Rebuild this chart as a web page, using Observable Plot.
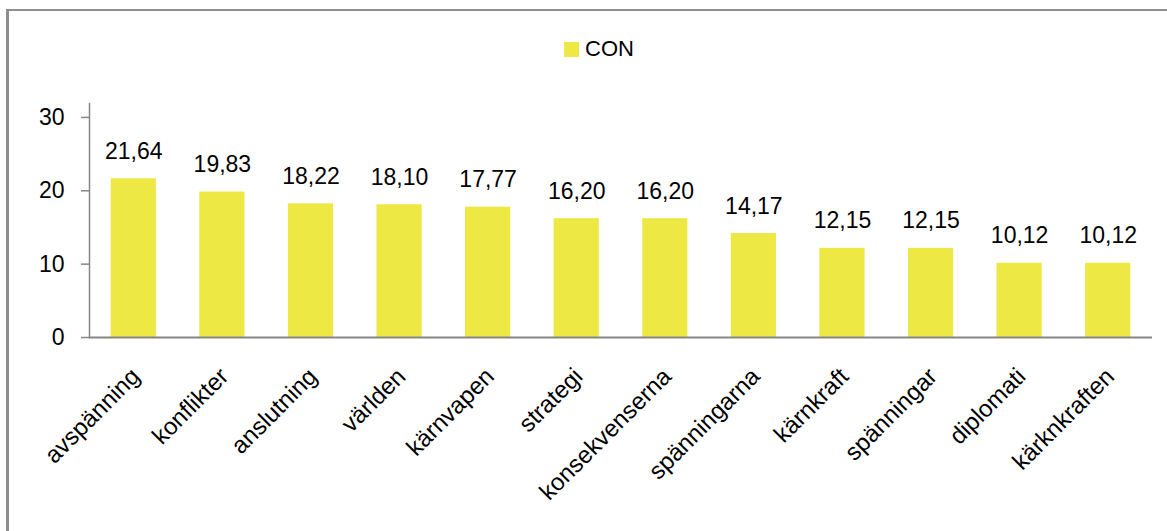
<!DOCTYPE html>
<html>
<head>
<meta charset="utf-8">
<script src="https://cdn.jsdelivr.net/npm/d3@7"></script>
<script src="https://cdn.jsdelivr.net/npm/@observablehq/plot@0.6"></script>
<style>
  html, body { margin: 0; padding: 0; background: #fff; }
  body { width: 1167px; height: 531px; position: relative; overflow: hidden; font-family: "Liberation Sans", Arial, sans-serif; }
  #frame { position: absolute; left: 6px; top: 9px; width: 1200px; height: 600px;
           border-left: 3px solid #8e8e8e; border-top: 2px solid #8e8e8e; box-sizing: border-box; }
  #legend { height: 90px; position: relative; }
  #legend .item { position: absolute; left: 564px; top: 36px; display: flex; align-items: center; font-size: 22px; color: #000; }
  #legend .sw { width: 15px; height: 15px; background: #eee845; margin-right: 6px; }
  #chart { position: relative; }
</style>
</head>
<body>
<div id="frame"></div>
<div id="legend"><div class="item"><div class="sw"></div><span>CON</span></div></div>
<div id="chart"></div>
<script>
const seriesName = "CON";
const categories = ["avspänning", "konflikter", "anslutning", "världen", "kärnvapen", "strategi",
  "konsekvenserna", "spänningarna", "kärnkraft", "spänningar", "diplomati", "kärknkraften"];
const values = [21.64, 19.83, 18.22, 18.10, 17.77, 16.20, 16.20, 14.17, 12.15, 12.15, 10.12, 10.12];
const yTicks = [0, 10, 20, 30];

const data = categories.map((c, i) => ({category: c, value: values[i]}));
const fmt = v => v.toFixed(2).replace(".", ",");

const chart = Plot.plot({
  width: 1167,
  height: 441,
  marginLeft: 89,
  marginRight: 15,
  marginTop: 13,
  marginBottom: 194,
  style: {fontFamily: "Liberation Sans, Arial, sans-serif", fontSize: "23px", background: "transparent", overflow: "visible"},
  x: {domain: categories, paddingInner: 0.49, paddingOuter: 0.245, round: false, label: null},
  y: {domain: [0, 31.9], label: null},
  marks: [
    Plot.barY(data, {x: "category", y: "value", fill: "#eee845"}),
    Plot.text(data, {x: "category", y: "value", text: d => fmt(d.value), dy: -20, lineAnchor: "bottom", fill: "#000", fontSize: 23}),
    Plot.axisY({ticks: yTicks, tickSize: 8, tickPadding: 17, stroke: "#868686", strokeWidth: 1.5, fill: "#000", fontSize: 23, label: null, tickFormat: d => String(d)}),
    Plot.frame({anchor: "left", stroke: "#868686", strokeWidth: 1.5}),
    Plot.ruleY([0], {stroke: "#868686", strokeWidth: 2}),
    Plot.axisX({tickSize: 0, tickRotate: -45, tickPadding: 35, dx: 2, fill: "#000", fontSize: 24, label: null})
  ]
});
document.getElementById("chart").appendChild(chart);
</script>
</body>
</html>
